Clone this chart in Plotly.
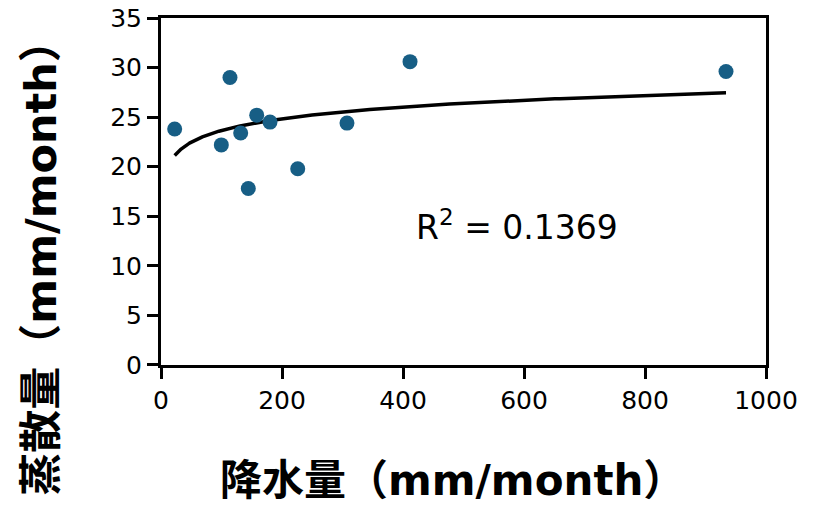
import numpy as np
import plotly.graph_objects as go

precip = [22.6, 99.7, 114, 131.7, 144.3, 158.2, 180.2, 226, 307.4, 411.6, 933.9]
evap = [23.8, 22.2, 29.0, 23.4, 17.8, 25.2, 24.5, 19.8, 24.4, 30.6, 29.6]
x_ticks = [0, 200, 400, 600, 800, 1000]
y_ticks = [0, 5, 10, 15, 20, 25, 30, 35]
r2_label = "R<sup>2</sup> = 0.1369"
x_title = "<b>降水量（mm/month）</b>"
y_title = "<b>蒸散量（mm/month）</b>"

# logarithmic trendline fitted from the data
a, b = np.polyfit(np.log(precip), evap, 1)
xt = np.geomspace(min(precip), max(precip), 300)
yt = a * np.log(xt) + b

fig = go.Figure()
fig.add_trace(go.Scatter(x=xt, y=yt, mode="lines",
                         line=dict(color="black", width=3.5), hoverinfo="skip"))
fig.add_trace(go.Scatter(x=precip, y=evap, mode="markers",
                         marker=dict(color="#175E85", size=15)))

tickfont = dict(family="DejaVu Sans", size=25, color="#000")
titlefam = "DejaVu Sans, Noto Sans CJK SC"

axis_common = dict(ticks="outside", ticklen=11, tickwidth=3, tickcolor="black",
                   showline=True, linewidth=3, linecolor="black", mirror=True,
                   showgrid=False, zeroline=False, tickfont=tickfont,
                   automargin=False)

fig.update_layout(
    width=813, height=506,
    margin=dict(l=161, r=47, t=18, b=141),
    paper_bgcolor="white", plot_bgcolor="white",
    showlegend=False,
    xaxis=dict(range=[0, 1000], tickvals=x_ticks, **axis_common),
    yaxis=dict(range=[-0.001, 35.001], tickvals=y_ticks, **axis_common),
    annotations=[
        dict(x=0.418, y=0.403, xref="paper", yref="paper", showarrow=False,
             xanchor="left", yanchor="middle", text=r2_label,
             font=dict(family="DejaVu Sans", size=33, color="#000")),
        dict(x=0.481, y=-0.334, xref="paper", yref="paper", showarrow=False,
             xanchor="center", yanchor="middle", text=x_title,
             font=dict(family=titlefam, size=42, color="#000")),
        dict(x=-0.198, y=0.31, xref="paper", yref="paper", showarrow=False,
             xanchor="center", yanchor="middle", text=y_title, textangle=-90,
             font=dict(family=titlefam, size=43, color="#000")),
    ],
)

fig.write_html("out.html")
